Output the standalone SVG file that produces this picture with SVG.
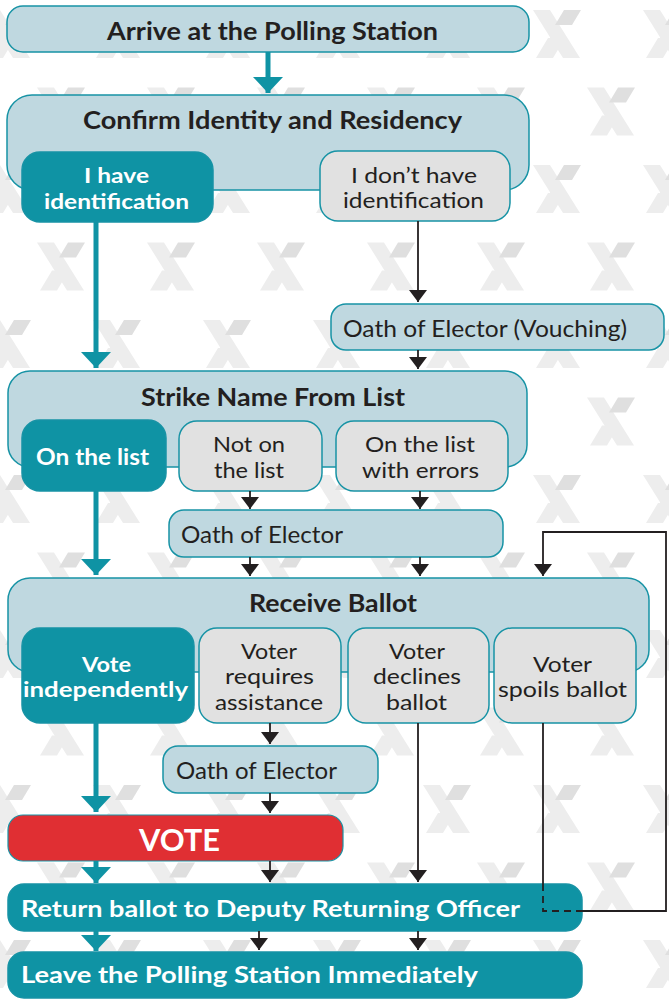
<svg xmlns="http://www.w3.org/2000/svg" width="669" height="999" viewBox="0 0 669 999">
<style>
.lb{fill:#bfd8e0;stroke:#1793a5;stroke-width:1.5}
.tl{fill:#0f93a4;stroke:#1793a5;stroke-width:1.5}
.gr{fill:#e1e1e1;stroke:#1793a5;stroke-width:1.5}
.rd{fill:#e02f33;stroke:#1793a5;stroke-width:1.2}
.tb{font-family:Lato,"Open Sans",sans-serif;font-weight:700;font-size:24px;fill:#231f20}
.tr{font-family:Lato,"Open Sans",sans-serif;font-weight:400;font-size:24px;fill:#231f20}
.tw{font-family:Lato,"Open Sans",sans-serif;font-weight:700;font-size:23px;fill:#ffffff}
.m{font-size:21px}
.c{text-anchor:middle}
.bk{fill:none;stroke:#231f20;stroke-width:1.8}
.te{fill:none;stroke:#0f93a4;stroke-width:5}
.xl{fill:#ededed}
.xd{fill:#dfdfdf}
</style>
<defs>
<g id="xm">
<path class="xl" d="M0,0H17L47,48H30Z"/>
<path class="xl" d="M3,48H20L32,28H15Z"/>
<path class="xd" d="M31,0H48L39,15H22Z"/>
</g>
<pattern id="bgx" patternUnits="userSpaceOnUse" x="0" y="0" width="110" height="155">
<use href="#xm" x="37" y="87.5"/>
<use href="#xm" x="-17" y="10"/>
<use href="#xm" x="93" y="10"/>
</pattern>
<marker id="ab" markerUnits="userSpaceOnUse" viewBox="0 -9 12 18" refX="12" refY="0" markerWidth="12" markerHeight="18" orient="auto">
<path d="M0,-9L12,0L0,9Z" fill="#231f20"/>
</marker>
<marker id="at" markerUnits="userSpaceOnUse" viewBox="0 -15 16 30" refX="16" refY="0" markerWidth="16" markerHeight="30" orient="auto">
<path d="M0,-15L16,0L0,15Z" fill="#0f93a4"/>
</marker>
</defs>
<rect width="669" height="999" fill="#ffffff"/>
<rect width="669" height="999" fill="url(#bgx)"/>

<g id="arrive"><rect class="lb" x="7" y="6" width="522" height="46" rx="16"/><text class="tb c" x="272.5" y="40" textLength="331" lengthAdjust="spacingAndGlyphs">Arrive at the Polling Station</text></g>
<g id="confirm"><rect class="lb" x="7" y="95" width="522" height="95" rx="25"/><text class="tb c" x="272.5" y="129" textLength="379" lengthAdjust="spacingAndGlyphs">Confirm Identity and Residency</text></g>
<g id="have-id"><rect class="tl" x="22" y="152" width="191" height="70" rx="18"/><text class="tw m c" x="116.5" y="183" textLength="65" lengthAdjust="spacingAndGlyphs">I have</text><text class="tw m c" x="116.5" y="209" textLength="145" lengthAdjust="spacingAndGlyphs">identification</text></g>
<g id="no-id"><rect class="gr" x="320" y="151" width="190" height="70" rx="18"/><text class="tr m c" x="414" y="183" textLength="126" lengthAdjust="spacingAndGlyphs">I don’t have</text><text class="tr m c" x="413.5" y="208" textLength="141" lengthAdjust="spacingAndGlyphs">identification</text></g>
<g id="vouching"><rect class="lb" x="331" y="304" width="333" height="46" rx="15"/><text class="tr" x="343" y="337" textLength="284" lengthAdjust="spacingAndGlyphs">Oath of Elector (Vouching)</text></g>
<g id="strike"><rect class="lb" x="8" y="371" width="519" height="96" rx="22"/><text class="tb c" x="273" y="406" textLength="264" lengthAdjust="spacingAndGlyphs">Strike Name From List</text></g>
<g id="on-list"><rect class="tl" x="22" y="420" width="144" height="71" rx="18"/><text class="tw c" x="92.5" y="465" textLength="113" lengthAdjust="spacingAndGlyphs">On the list</text></g>
<g id="not-on-list"><rect class="gr" x="179" y="421" width="143" height="70" rx="18"/><text class="tr m c" x="249" y="452" textLength="72" lengthAdjust="spacingAndGlyphs">Not on</text><text class="tr m c" x="249" y="478" textLength="70" lengthAdjust="spacingAndGlyphs">the list</text></g>
<g id="list-errors"><rect class="gr" x="336" y="421" width="172" height="70" rx="18"/><text class="tr m c" x="420" y="452" textLength="110" lengthAdjust="spacingAndGlyphs">On the list</text><text class="tr m c" x="420.5" y="478" textLength="117" lengthAdjust="spacingAndGlyphs">with errors</text></g>
<g id="oath1"><rect class="lb" x="169" y="510" width="334" height="47" rx="15"/><text class="tr" x="181" y="543" textLength="162" lengthAdjust="spacingAndGlyphs">Oath of Elector</text></g>
<g id="receive"><rect class="lb" x="8" y="578" width="641" height="94" rx="22"/><text class="tb c" x="333" y="612" textLength="168" lengthAdjust="spacingAndGlyphs">Receive Ballot</text></g>
<g id="vote-ind"><rect class="tl" x="22" y="628" width="172" height="95" rx="18"/><text class="tw m c" x="106.5" y="672" textLength="49" lengthAdjust="spacingAndGlyphs">Vote</text><text class="tw m c" x="105.5" y="697" textLength="165" lengthAdjust="spacingAndGlyphs">independently</text></g>
<g id="assist"><rect class="gr" x="199" y="628" width="142" height="95" rx="18"/><text class="tr m c" x="269" y="659" textLength="56" lengthAdjust="spacingAndGlyphs">Voter</text><text class="tr m c" x="269.5" y="684" textLength="89" lengthAdjust="spacingAndGlyphs">requires</text><text class="tr m c" x="269" y="710" textLength="108" lengthAdjust="spacingAndGlyphs">assistance</text></g>
<g id="declines"><rect class="gr" x="348" y="628" width="141" height="95" rx="18"/><text class="tr m c" x="417" y="659" textLength="56" lengthAdjust="spacingAndGlyphs">Voter</text><text class="tr m c" x="417" y="684" textLength="88" lengthAdjust="spacingAndGlyphs">declines</text><text class="tr m c" x="416.5" y="710" textLength="61" lengthAdjust="spacingAndGlyphs">ballot</text></g>
<g id="spoils"><rect class="gr" x="494" y="628" width="142" height="95" rx="18"/><text class="tr m c" x="562.5" y="672" textLength="59" lengthAdjust="spacingAndGlyphs">Voter</text><text class="tr m c" x="562.5" y="697" textLength="129" lengthAdjust="spacingAndGlyphs">spoils ballot</text></g>
<g id="oath2"><rect class="lb" x="163" y="746" width="215" height="47" rx="15"/><text class="tr" x="176" y="779" textLength="161" lengthAdjust="spacingAndGlyphs">Oath of Elector</text></g>
<g id="vote"><rect class="rd" x="8" y="815" width="335" height="46" rx="15"/><text class="tw c" x="179.5" y="851" style="font-size:31px" textLength="81" lengthAdjust="spacingAndGlyphs">VOTE</text></g>
<g id="return"><rect class="tl" x="8" y="884" width="574" height="47" rx="16"/><text class="tw" x="21" y="917" textLength="499" lengthAdjust="spacingAndGlyphs">Return ballot to Deputy Returning Officer</text></g>
<g id="leave"><rect class="tl" x="8" y="952" width="574" height="46" rx="16"/><text class="tw" x="21" y="983" textLength="457" lengthAdjust="spacingAndGlyphs">Leave the Polling Station Immediately</text></g>

<g id="connectors">
<path class="te" d="M268,52V93" marker-end="url(#at)"/>
<path class="te" d="M96,222V368" marker-end="url(#at)"/>
<path class="te" d="M96,491V575" marker-end="url(#at)"/>
<path class="te" d="M96,723V812" marker-end="url(#at)"/>
<path class="te" d="M96,861V883" marker-end="url(#at)"/>
<path class="te" d="M96,931V951" marker-end="url(#at)"/>
<path class="bk" d="M418,221V302" marker-end="url(#ab)"/>
<path class="bk" d="M418,350V369" marker-end="url(#ab)"/>
<path class="bk" d="M250,491V509" marker-end="url(#ab)"/>
<path class="bk" d="M420,491V509" marker-end="url(#ab)"/>
<path class="bk" d="M250,557V576" marker-end="url(#ab)"/>
<path class="bk" d="M420,557V576" marker-end="url(#ab)"/>
<path class="bk" d="M270,723V744" marker-end="url(#ab)"/>
<path class="bk" d="M270,793V813" marker-end="url(#ab)"/>
<path class="bk" d="M270,861V882" marker-end="url(#ab)"/>
<path class="bk" d="M418,723V882" marker-end="url(#ab)"/>
<path class="bk" d="M259,931V950" marker-end="url(#ab)"/>
<path class="bk" d="M418,931V950" marker-end="url(#ab)"/>
<path class="bk" d="M543,723V884"/>
<path class="bk" d="M543,884V911H582" stroke-dasharray="7 5"/>
<path class="bk" d="M582,911H666V532H543V576" marker-end="url(#ab)"/>
</g>
</svg>
